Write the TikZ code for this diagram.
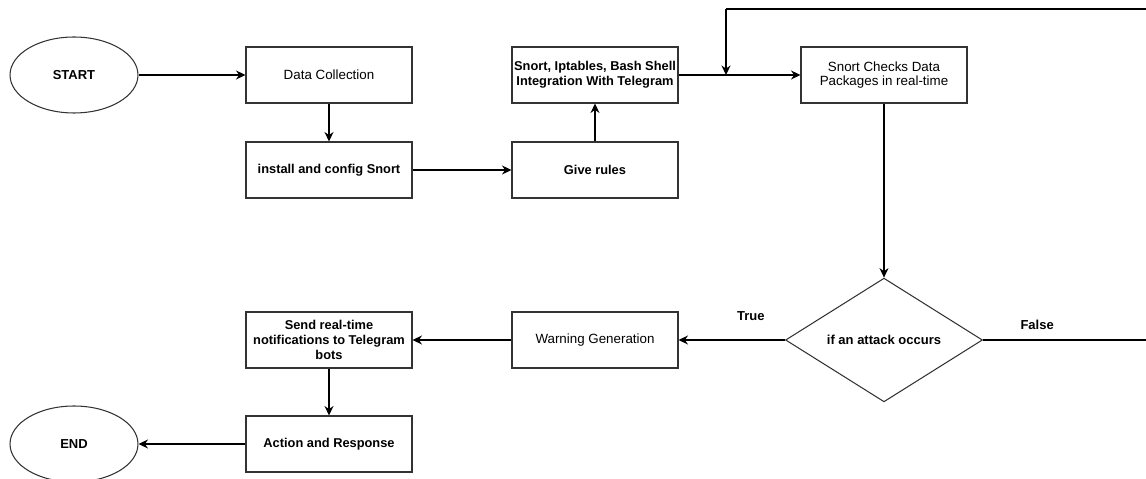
\documentclass[tikz,border=0pt]{standalone}
\usepackage{fontspec}
\setmainfont{Liberation Sans}
\definecolor{LineGray}{RGB}{51,51,51}
\usetikzlibrary{positioning, arrows.meta, shapes.geometric}
\tikzset{
  blockbox/.style={draw=LineGray, line width=0.6pt, minimum width=3.32cm, minimum height=1.12cm, align=center, font=\fontsize{7.3}{8.4}\selectfont\bfseries, inner sep=1pt},
  plainbox/.style={blockbox, font=\fontsize{7.6}{8.4}\selectfont},
  termnode/.style={draw=LineGray, line width=0.6pt, ellipse, minimum width=2.56cm, minimum height=1.52cm, font=\fontsize{7.4}{8.4}\selectfont\bfseries},
  decision/.style={draw=LineGray, line width=0.6pt, diamond, minimum width=3.94cm, minimum height=2.46cm, inner sep=0pt, font=\fontsize{7.4}{8.4}\selectfont\bfseries},
  flow/.style={-{Stealth[length=1.9mm, width=1.8mm]}, line width=0.6pt},
  edgelabel/.style={font=\fontsize{7.4}{8.4}\selectfont\bfseries, inner sep=0pt}
}
\begin{document}
\begin{tikzpicture}[x=0.02cm, y=-0.02cm]
  \useasboundingbox (0,0) rectangle (1146,479);
  \node[termnode] (start) at (74,75) {START};
  \node[plainbox] (collect) at (329,75) {Data Collection};
  \node[blockbox] (install) at (329,170) {install and config Snort};
  \node[blockbox] (rules) at (595,170) {Give rules};
  \node[blockbox] (integ) at (595,75) {Snort, Iptables, Bash Shell\\Integration With Telegram};
  \node[plainbox] (checks) at (884,75) {Snort Checks Data\\Packages in real-time};
  \node[decision] (attack) at (884,340) {if an attack occurs};
  \node[plainbox] (warning) at (595,340) {Warning Generation};
  \node[blockbox] (notify) at (329,340) {Send real-time\\notifications to Telegram\\bots};
  \node[blockbox] (action) at (329,444) {Action and Response};
  \node[termnode] (stop) at (74,444) {END};

  \coordinate (joinpt) at (726,75);
  \coordinate (loopbr) at (1147,340);
  \coordinate (looptr) at (1147,9);
  \coordinate (looptl) at (726,9);

  \draw[flow] (start) -- (collect);
  \draw[flow] (collect) -- (install);
  \draw[flow] (install) -- (rules);
  \draw[flow] (rules) -- (integ);
  \draw[flow] (integ) -- (checks);
  \draw[flow] (checks) -- (attack);
  \draw[flow] (attack.west) -- node[edgelabel, pos=0.32, above=10.5pt] {True} (warning);
  \draw[flow] (warning) -- (notify);
  \draw[flow] (notify) -- (action);
  \draw[flow] (action) -- (stop);
  % loop back when no attack
  \draw[line width=0.6pt] (attack.east) -- node[edgelabel, pos=0.33, above=5.5pt] {False} (loopbr) -- (looptr) -- (looptl);
  \draw[flow] (looptl) -- (joinpt);
\end{tikzpicture}
\end{document}
